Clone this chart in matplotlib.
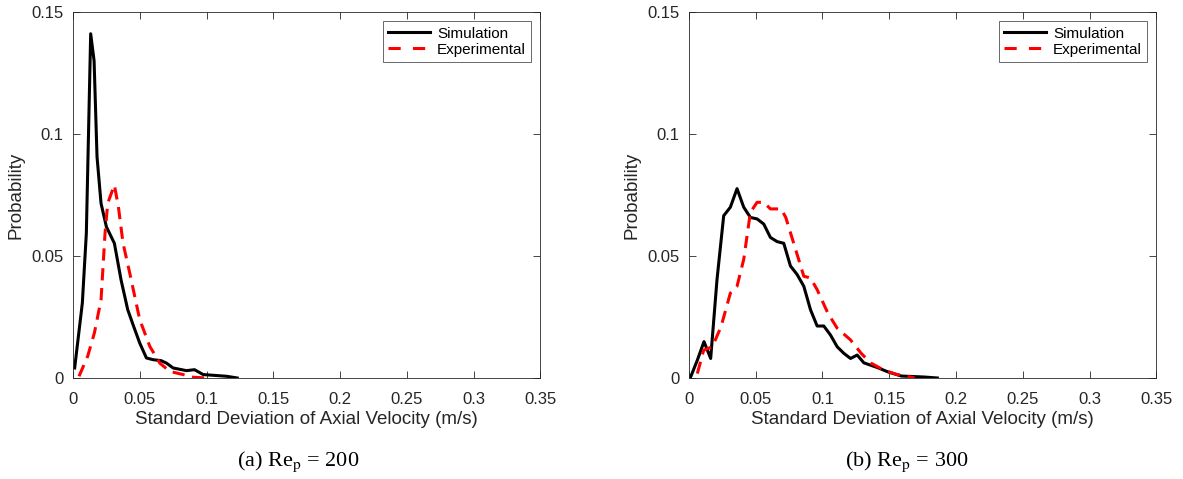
import numpy as np
import matplotlib.pyplot as plt

plt.rcParams['font.family'] = 'Liberation Sans'
plt.rcParams['mathtext.fontset'] = 'stix'

# Re_p = 200
sim200_x = [0.00125, 0.007, 0.010, 0.01325, 0.0158, 0.018, 0.021, 0.025, 0.031, 0.036,
            0.041, 0.045, 0.050, 0.055, 0.060, 0.066, 0.070, 0.075, 0.085, 0.091,
            0.0975, 0.105, 0.115, 0.123]
sim200_y = [0.0041, 0.0307, 0.0593, 0.1411, 0.130, 0.0907, 0.0716, 0.062, 0.0552, 0.0402,
            0.028, 0.0218, 0.0143, 0.0082, 0.0075, 0.0071, 0.0061, 0.0041, 0.003, 0.0034,
            0.0014, 0.0011, 0.0007, 0.0]
exp200_x = [0.0045, 0.011, 0.016, 0.021, 0.024, 0.026, 0.031, 0.034, 0.0375, 0.0425,
            0.050, 0.0575, 0.065, 0.0725, 0.0825, 0.090, 0.100]
exp200_y = [0.0007, 0.0089, 0.0184, 0.032, 0.0593, 0.0716, 0.0791, 0.0702, 0.0552, 0.043,
            0.0239, 0.013, 0.0061, 0.0027, 0.0014, 0.0003, 0.0]

# Re_p = 300
sim300_x = [0.00125, 0.00625, 0.01125, 0.01625, 0.021, 0.026, 0.031, 0.036, 0.041, 0.046,
            0.051, 0.056, 0.061, 0.066, 0.071, 0.076, 0.081, 0.086, 0.091, 0.096,
            0.101, 0.106, 0.111, 0.116, 0.121, 0.126, 0.131, 0.141, 0.149, 0.159,
            0.176, 0.186]
sim300_y = [0.0004, 0.0073, 0.0149, 0.008, 0.0404, 0.0665, 0.070, 0.0776, 0.070, 0.0658,
            0.0652, 0.0631, 0.0576, 0.0559, 0.0552, 0.0459, 0.0424, 0.0376, 0.028, 0.0213,
            0.0213, 0.0176, 0.0128, 0.0101, 0.008, 0.0094, 0.0062, 0.0043, 0.0025, 0.0008,
            0.0004, 0.0]
exp300_x = [0.00625, 0.011, 0.0175, 0.024, 0.031, 0.036, 0.041, 0.046, 0.051, 0.056,
            0.061, 0.069, 0.0725, 0.0775, 0.086, 0.091, 0.096, 0.104, 0.111, 0.121,
            0.129, 0.136, 0.146, 0.156, 0.169]
exp300_y = [0.0018, 0.0114, 0.0128, 0.021, 0.0348, 0.0376, 0.0486, 0.0679, 0.072, 0.072,
            0.0693, 0.0693, 0.0658, 0.0569, 0.0417, 0.041, 0.0362, 0.0266, 0.0204, 0.0156,
            0.0101, 0.0062, 0.0032, 0.0014, 0.0]

x_ticks = [0, 0.05, 0.1, 0.15, 0.2, 0.25, 0.3, 0.35]
x_labels = ['0', '0.05', '0.1', '0.15', '0.2', '0.25', '0.3', '0.35']
y_ticks = [0, 0.05, 0.1, 0.15]
y_labels = ['0', '0.05', '0.1', '0.15']
captions = [r'(a) Re$_{\mathrm{p}}$ = 200', r'(b) Re$_{\mathrm{p}}$ = 300']

fig = plt.figure(figsize=(11.83, 4.79), dpi=100)
ax1 = fig.add_axes([0.0617, 0.2109, 0.395, 0.764])
ax2 = fig.add_axes([0.5824, 0.2109, 0.395, 0.764])

panels = [(ax1, sim200_x, sim200_y, exp200_x, exp200_y),
          (ax2, sim300_x, sim300_y, exp300_x, exp300_y)]
grey = '#262626'
for i, (ax, sx, sy, ex, ey) in enumerate(panels):
    ax.plot(sx, sy, color='black', lw=2.2, label='Simulation')
    ax.plot(ex, ey, color='red', lw=2.2, ls=(0, (4, 2.5)), label='Experimental')
    ax.set_xlim(0, 0.35)
    ax.set_ylim(0, 0.15)
    ax.set_xticks(x_ticks)
    ax.set_xticklabels(x_labels)
    ax.set_yticks(y_ticks)
    ax.set_yticklabels(y_labels)
    ax.tick_params(direction='in', top=True, right=True, labelsize=12,
                   colors=grey, length=5, width=0.6)
    ax.tick_params(axis='x', pad=10)
    ax.tick_params(axis='y', pad=7)
    for s in ax.spines.values():
        s.set_color(grey)
        s.set_linewidth(0.6)
    ax.set_xlabel('Standard Deviation of Axial Velocity (m/s)', fontsize=13.5, color=grey, labelpad=3)
    ax.set_ylabel('Probability', fontsize=13.5, color=grey, labelpad=4.5)
    leg = ax.legend(loc='upper right', fontsize=11, frameon=True, fancybox=False,
                    edgecolor=grey, handlelength=2.75, handletextpad=0.45,
                    borderpad=0.35, labelspacing=0.15, borderaxespad=0.6)
    leg.get_frame().set_linewidth(0.6)
    leg.get_lines()[1].set_linestyle((0, (4, 4)))

fig.text(298 / 1183, 1 - 462 / 479, captions[0], ha='center', va='center',
         fontsize=16, family='Liberation Serif')
fig.text(907 / 1183, 1 - 462 / 479, captions[1], ha='center', va='center',
         fontsize=16, family='Liberation Serif')

fig.savefig('out.png', dpi=100)
